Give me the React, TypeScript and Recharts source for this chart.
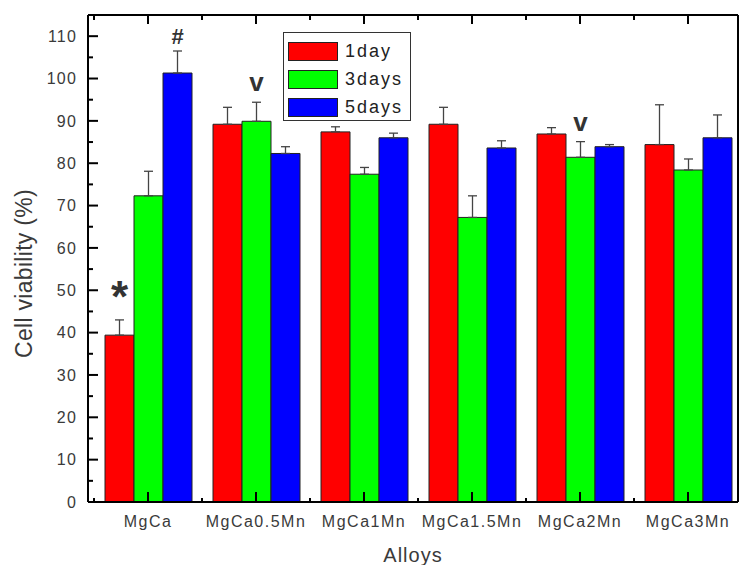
import React from 'react';
import { BarChart, Bar, XAxis, YAxis, ErrorBar, Legend, LabelList } from 'recharts';

const alloys = ['MgCa', 'MgCa0.5Mn', 'MgCa1Mn', 'MgCa1.5Mn', 'MgCa2Mn', 'MgCa3Mn'];
const day1 = [39.4, 89.2, 87.4, 89.2, 86.9, 84.4];
const day1Err = [3.6, 4.0, 1.2, 4.0, 1.5, 9.4];
const day3 = [72.3, 89.9, 77.4, 67.2, 81.4, 78.4];
const day3Err = [5.8, 4.5, 1.6, 5.1, 3.7, 2.6];
const day5 = [101.3, 82.3, 86.0, 83.6, 83.9, 86.0];
const day5Err = [5.2, 1.6, 1.1, 1.7, 0.5, 5.4];
const day1Marks = ['*', '', '', '', '', ''];
const day3Marks = ['', 'v', '', '', 'v', ''];
const day5Marks = ['#', '', '', '', '', ''];
const seriesNames = ['1day', '3days', '5days'];
const seriesColors = ['#ff0000', '#00ff00', '#0000ff'];
const yTicks = [0, 5, 10, 15, 20, 25, 30, 35, 40, 45, 50, 55, 60, 65, 70, 75, 80, 85, 90, 95, 100, 105, 110];
const yMajorTicks = [0, 10, 20, 30, 40, 50, 60, 70, 80, 90, 100, 110];
const yDomain = [0, 115];

const data = alloys.map((name, i) => ({
  name,
  d1: day1[i],
  d1e: [0, day1Err[i]],
  d3: day3[i],
  d3e: [0, day3Err[i]],
  d5: day5[i],
  d5e: [0, day5Err[i]],
}));

const FONT = '"Liberation Sans", Arial, sans-serif';
const TEXT = '#3a3a3a';

const LeftTick = (props: any) => {
  const { x, y, payload } = props;
  const major = payload.value % 10 === 0;
  return (
    <g>
      <line x1={x} x2={x + (major ? 10 : 5)} y1={y} y2={y} stroke="#000" strokeWidth={2} />
      {major && (
        <text x={x - 11} y={y} dy="0.36em" textAnchor="end" fontSize={16} letterSpacing={1.2} fill={TEXT} fontFamily={FONT}>
          {payload.value}
        </text>
      )}
    </g>
  );
};

const RightTick = (props: any) => {
  const { x, y } = props;
  return <line x1={x} x2={x - 3} y1={y} y2={y} stroke="#000" strokeWidth={2} />;
};

const BottomTick = (props: any) => {
  const { x, y, payload } = props;
  const off = payload.offset || 54;
  return (
    <g>
      <line x1={x} x2={x} y1={y} y2={y - 10} stroke="#000" strokeWidth={2} />
      <line x1={x - off} x2={x - off} y1={y} y2={y - 4} stroke="#000" strokeWidth={2} />
      <text x={x} y={y + 25} textAnchor="middle" fontSize={16} letterSpacing={1.5} fill={TEXT} fontFamily={FONT}>
        {payload.value}
      </text>
    </g>
  );
};

const TopTick = (props: any) => {
  const { x, y, payload } = props;
  const off = payload.offset || 54;
  return (
    <g>
      <line x1={x} x2={x} y1={y} y2={y + 9} stroke="#000" strokeWidth={2} />
      <line x1={x - off} x2={x - off} y1={y} y2={y + 5} stroke="#000" strokeWidth={2} />
    </g>
  );
};

const markStyle: Record<string, { size: number; lift: number }> = {
  '*': { size: 44, lift: 8 },
  '#': { size: 22, lift: 7 },
  v: { size: 26, lift: 11 },
};

const makeMark = (marks: string[], errs: number[]) => (props: any) => {
  const vb = props.viewBox || {};
  const x = props.x ?? vb.x;
  const y = props.y ?? vb.y;
  const width = props.width ?? vb.width;
  const height = Math.abs(props.height ?? vb.height);
  const { value, index } = props;
  const m = marks[index];
  if (!m) return null;
  const errPx = value ? (errs[index] * height) / value : 0;
  const top = y - errPx;
  const st = markStyle[m];
  return (
    <text
      x={x + width / 2}
      y={top - st.lift}
      textAnchor="middle"
      fontSize={st.size}
      fontWeight="bold"
      fill="#333"
      fontFamily={FONT}
    >
      {m}
    </text>
  );
};

const renderLegend = (props: any) => {
  const payload = props.payload || [];
  return (
    <div
      style={{
        border: '1px solid #333',
        background: '#fff',
        paddingTop: 4,
        width: 128,
        height: 89,
        boxSizing: 'border-box',
      }}
    >
      {payload.map((p: any, i: number) => (
        <div key={i} style={{ display: 'flex', alignItems: 'center', height: 28 }}>
          <div
            style={{
              width: 50,
              height: 19,
              background: p.color,
              border: '1px solid #222',
              boxSizing: 'border-box',
              marginLeft: 4,
            }}
          />
          <span style={{ marginLeft: 7, fontSize: 18, letterSpacing: 2, color: '#222', fontFamily: FONT }}>{p.value}</span>
        </div>
      ))}
    </div>
  );
};

const series = [
  { key: 'd1', err: 'd1e', errs: day1Err, marks: day1Marks },
  { key: 'd3', err: 'd3e', errs: day3Err, marks: day3Marks },
  { key: 'd5', err: 'd5e', errs: day5Err, marks: day5Marks },
];

export default function App() {
  return (
    <div style={{ position: 'absolute', left: 0, top: 0, background: '#fff' }}>
      <BarChart
        width={739}
        height={565}
        data={data}
        margin={{ top: 0, right: 0, bottom: 0, left: 0 }}
        barCategoryGap={11}
        barGap={0}
      >
        <XAxis
          dataKey="name"
          height={63}
          padding={{ left: 6, right: -4 }}
          tickSize={0}
          tickMargin={0}
          tickLine={false}
          axisLine={{ stroke: '#000', strokeWidth: 2 }}
          tick={<BottomTick />}
          interval={0}
          label={{
            content: (p: any) => {
              const vb = p.viewBox;
              return (
                <text x={vb.x + vb.width / 2} y={vb.y + 60} textAnchor="middle" fontSize={20} letterSpacing={1} fill={TEXT} fontFamily={FONT}>
                  Alloys
                </text>
              );
            },
          }}
        />
        <XAxis
          xAxisId="top"
          dataKey="name"
          orientation="top"
          height={15}
          padding={{ left: 6, right: -4 }}
          tickSize={0}
          tickMargin={0}
          tickLine={false}
          axisLine={{ stroke: '#000', strokeWidth: 2 }}
          tick={<TopTick />}
          interval={0}
        />
        <YAxis
          width={88}
          domain={yDomain}
          ticks={yTicks}
          interval={0}
          type="number"
          tickSize={0}
          tickMargin={0}
          tickLine={false}
          axisLine={{ stroke: '#000', strokeWidth: 2 }}
          tick={<LeftTick />}
          label={{
            content: (p: any) => {
              const vb = p.viewBox;
              const cx = vb.x + 24;
              const cy = vb.y + vb.height / 2 + 15;
              return (
                <text
                  x={cx}
                  y={cy}
                  transform={`rotate(-90 ${cx} ${cy})`}
                  textAnchor="middle"
                  dominantBaseline="central"
                  fontSize={23}
                  letterSpacing={0.3}
                  fill={TEXT}
                  fontFamily={FONT}
                >
                  Cell viability (%)
                </text>
              );
            },
          }}
        />
        <YAxis
          yAxisId="right"
          orientation="right"
          width={1}
          domain={yDomain}
          ticks={yMajorTicks}
          interval={0}
          type="number"
          tickSize={0}
          tickMargin={0}
          tickLine={false}
          axisLine={{ stroke: '#000', strokeWidth: 2 }}
          tick={<RightTick />}
        />
        <Legend
          layout="vertical"
          align="center"
          verticalAlign="middle"
          content={renderLegend}
          wrapperStyle={{ left: 283, top: 32, width: 128, height: 89 }}
        />
        {series.map((s, i) => (
          <Bar
            key={s.key}
            dataKey={s.key}
            name={seriesNames[i]}
            fill={seriesColors[i]}
            stroke="#222"
            strokeWidth={1}
            isAnimationActive={false}
          >
            <ErrorBar dataKey={s.err} width={4.5} stroke="#444" strokeWidth={1.3} direction="y" />
            <LabelList dataKey={s.key} content={makeMark(s.marks, s.errs)} />
          </Bar>
        ))}
      </BarChart>
    </div>
  );
}
